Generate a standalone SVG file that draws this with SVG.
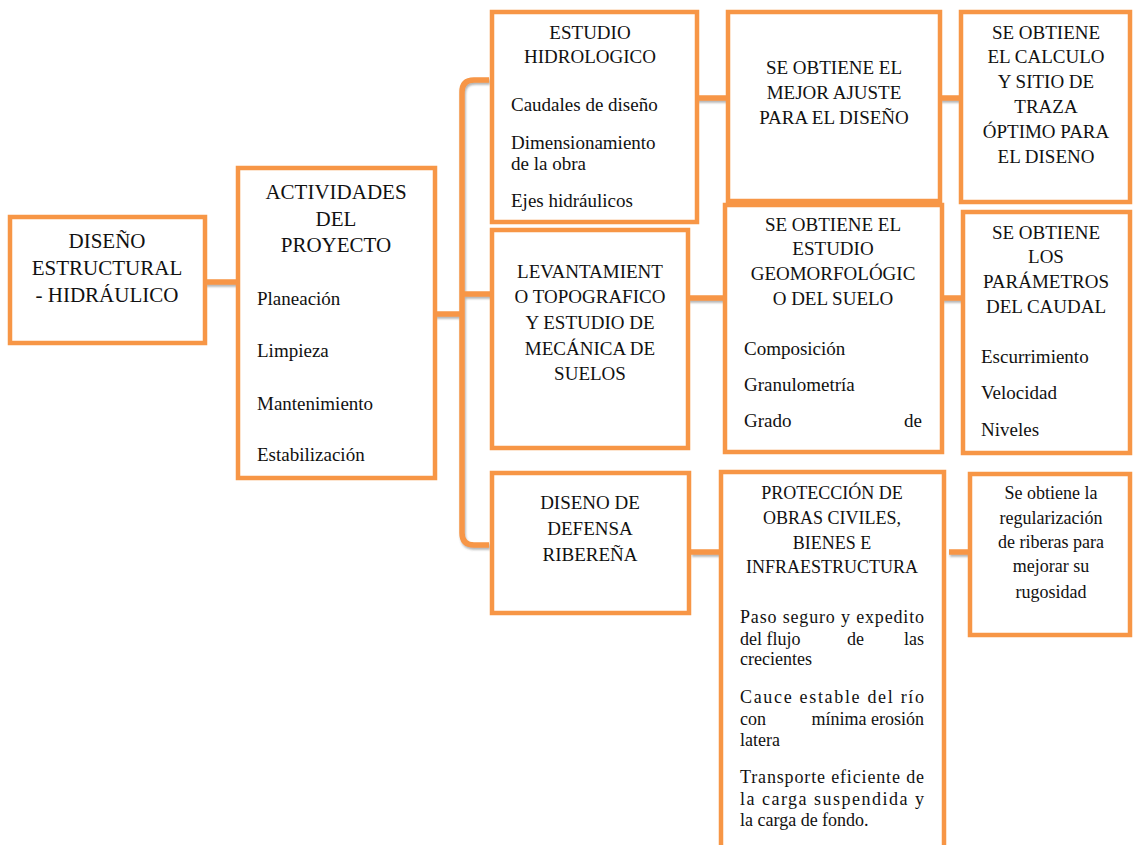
<svg xmlns="http://www.w3.org/2000/svg" width="1133" height="845" viewBox="0 0 1133 845">
<defs>
<style>
.box{fill:#fff;stroke:#F79646;stroke-width:4.5}
.con{fill:none;stroke:#F79646;stroke-width:5.5;stroke-linecap:butt}
.t21{font-size:21px}
.t19{font-size:19px}
.t18{font-size:18px}
.c{text-anchor:middle}
.r{text-anchor:end}
</style>
<filter id="sh" x="-10%" y="-50%" width="120%" height="200%">
<feDropShadow dx="1" dy="2" stdDeviation="1.2" flood-color="#555" flood-opacity="0.45"/>
</filter>
</defs>
<rect width="1133" height="845" fill="#fff"/>
<g id="connectors" filter="url(#sh)">
<path class="con" d="M205,282 H238"/>
<path class="con" d="M435,314 H462"/>
<path class="con" d="M489,80 H474 Q462,80 462,92 V533 Q462,545 474,545 H489"/>
<path class="con" d="M462,294 H492"/>
<path class="con" d="M697,98 H728"/>
<path class="con" d="M940,98 H961"/>
<path class="con" d="M688,298 H725"/>
<path class="con" d="M942,298 H963"/>
<path class="con" d="M691,552 H723"/>
<path class="con" d="M949,552 H972"/>
</g>
<g id="nodes" font-family="Liberation Serif, DejaVu Serif, serif" fill="#111">
<g id="n1"><rect class="box" x="10" y="217" width="195" height="126"/>
<text class="t21 c" x="107" y="248">DISEÑO</text>
<text class="t21 c" x="107" y="275">ESTRUCTURAL</text>
<text class="t21 c" x="107" y="302">- HIDRÁULICO</text></g>
<g id="n2"><rect class="box" x="238" y="168" width="197" height="310"/>
<text class="t21 c" x="336" y="199">ACTIVIDADES</text>
<text class="t21 c" x="336" y="226">DEL</text>
<text class="t21 c" x="336" y="252">PROYECTO</text>
<text class="t19" x="257" y="305">Planeación</text>
<text class="t19" x="257" y="357">Limpieza</text>
<text class="t19" x="257" y="410">Mantenimiento</text>
<text class="t19" x="257" y="461">Estabilización</text></g>
<g id="n3"><rect class="box" x="492" y="12" width="205" height="210"/>
<text class="t19 c" x="590" y="39">ESTUDIO</text>
<text class="t19 c" x="590" y="63">HIDROLOGICO</text>
<text class="t19" x="511" y="111">Caudales de diseño</text>
<text class="t19" x="511" y="149">Dimensionamiento</text>
<text class="t19" x="511" y="170">de la obra</text>
<text class="t19" x="511" y="207">Ejes hidráulicos</text></g>
<g id="n4"><rect class="box" x="728" y="12" width="212" height="189"/>
<text class="t19 c" x="834" y="74">SE OBTIENE EL</text>
<text class="t19 c" x="834" y="99">MEJOR AJUSTE</text>
<text class="t19 c" x="834" y="124">PARA EL DISEÑO</text></g>
<g id="n5"><rect class="box" x="961" y="12" width="169" height="190"/>
<text class="t19 c" x="1046" y="39">SE OBTIENE</text>
<text class="t19 c" x="1046" y="63">EL CALCULO</text>
<text class="t19 c" x="1046" y="88">Y SITIO DE</text>
<text class="t19 c" x="1046" y="113">TRAZA</text>
<text class="t19 c" x="1046" y="138">ÓPTIMO PARA</text>
<text class="t19 c" x="1046" y="163">EL DISENO</text></g>
<g id="n6"><rect class="box" x="492" y="230" width="196" height="218"/>
<text class="t19 c" x="590" y="278">LEVANTAMIENT</text>
<text class="t19 c" x="590" y="303">O TOPOGRAFICO</text>
<text class="t19 c" x="590" y="329">Y ESTUDIO DE</text>
<text class="t19 c" x="590" y="355">MECÁNICA DE</text>
<text class="t19 c" x="590" y="380">SUELOS</text></g>
<g id="n7"><rect class="box" x="725" y="205" width="217" height="247"/>
<text class="t19 c" x="833" y="231">SE OBTIENE EL</text>
<text class="t19 c" x="833" y="255">ESTUDIO</text>
<text class="t19 c" x="833" y="280">GEOMORFOLÓGIC</text>
<text class="t19 c" x="833" y="305">O DEL SUELO</text>
<text class="t19" x="744" y="355">Composición</text>
<text class="t19" x="744" y="391">Granulometría</text>
<text class="t19" x="744" y="427">Grado</text>
<text class="t19 r" x="922" y="427">de</text></g>
<g id="n8"><rect class="box" x="963" y="212" width="167" height="241"/>
<text class="t19 c" x="1046" y="239">SE OBTIENE</text>
<text class="t19 c" x="1046" y="263">LOS</text>
<text class="t19 c" x="1046" y="288">PARÁMETROS</text>
<text class="t19 c" x="1046" y="313">DEL CAUDAL</text>
<text class="t19" x="981" y="363">Escurrimiento</text>
<text class="t19" x="981" y="399">Velocidad</text>
<text class="t19" x="981" y="436">Niveles</text></g>
<g id="n9"><rect class="box" x="492" y="473" width="197" height="140"/>
<text class="t19 c" x="590" y="509">DISENO DE</text>
<text class="t19 c" x="590" y="535">DEFENSA</text>
<text class="t19 c" x="590" y="561">RIBEREÑA</text></g>
<g id="n10"><rect class="box" x="721" y="472" width="223" height="385"/>
<text class="t18 c" x="832" y="499">PROTECCIÓN DE</text>
<text class="t18 c" x="832" y="524">OBRAS CIVILES,</text>
<text class="t18 c" x="832" y="549">BIENES E</text>
<text class="t18 c" x="832" y="573">INFRAESTRUCTURA</text>
<text class="t18" x="740" y="623" textLength="184" lengthAdjust="spacing">Paso seguro y expedito</text>
<text class="t18" x="740" y="645">del flujo</text>
<text class="t18" x="847" y="645">de</text>
<text class="t18 r" x="924" y="645">las</text>
<text class="t18" x="740" y="665">crecientes</text>
<text class="t18" x="740" y="703" textLength="184" lengthAdjust="spacing">Cauce estable del río</text>
<text class="t18" x="740" y="725">con</text>
<text class="t18 r" x="924" y="725">mínima erosión</text>
<text class="t18" x="740" y="746">latera</text>
<text class="t18" x="740" y="783" textLength="184" lengthAdjust="spacing">Transporte eficiente de</text>
<text class="t18" x="740" y="805" textLength="184" lengthAdjust="spacing">la carga suspendida y</text>
<text class="t18" x="740" y="826">la carga de fondo.</text></g>
<g id="n11"><rect class="box" x="970" y="474" width="160" height="161"/>
<text class="t18 c" x="1051" y="499">Se obtiene la</text>
<text class="t18 c" x="1051" y="524">regularización</text>
<text class="t18 c" x="1051" y="548">de riberas para</text>
<text class="t18 c" x="1051" y="572">mejorar su</text>
<text class="t18 c" x="1051" y="598">rugosidad</text></g>
</g>
</svg>
